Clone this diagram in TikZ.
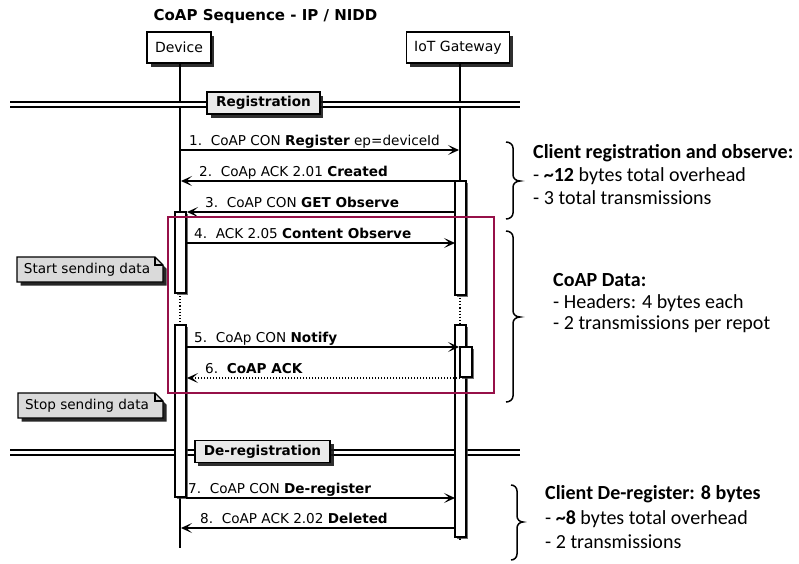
\documentclass[tikz,border=0pt]{standalone}
\usepackage{fontspec}
\setmainfont{DejaVu Sans}
\newfontfamily\calfont{Carlito}
\usetikzlibrary{arrows.meta,shadows}

\definecolor{framered}{RGB}{150,16,72}
\definecolor{notefill}{RGB}{218,218,218}
\definecolor{sepfill}{RGB}{234,234,234}

\tikzset{
  boxshadow/.style={drop shadow={shadow xshift=3.5pt,shadow yshift=-3.5pt,fill=black!90,opacity=0.9}},
  participant/.style={draw,line width=1.3pt,fill=white,boxshadow,minimum height=31pt,inner xsep=8pt,font=\fontsize{14}{16}\selectfont},
  lifeline/.style={line width=1.1pt},
  gapline/.style={line width=1.1pt,dotted},
  actbar/.style={draw,line width=1.2pt,fill=white,drop shadow={shadow xshift=1.5pt,shadow yshift=-1.5pt,fill=black!75,opacity=0.75}},
  msg/.style={line width=1.1pt,-{Stealth[length=11pt,width=10pt,inset=5.5pt]}},
  reply/.style={msg,dash pattern=on 1.5pt off 1.5pt},
  msglabel/.style={anchor=base west,inner sep=0pt,font=\fontsize{13.6}{16}\selectfont},
  separator/.style={line width=1.7pt,double=white,double distance=3pt},
  seplabel/.style={draw,line width=1.3pt,fill=sepfill,boxshadow,font=\bfseries\fontsize{13.6}{16}\selectfont,minimum height=22pt,inner xsep=9pt,inner ysep=0pt},
  notebody/.style={draw,line width=1.1pt,fill=notefill},
  noteshadow/.style={fill=black!85},
  notetext/.style={inner sep=0pt,font=\fontsize{13.6}{16}\selectfont},
  bracket/.style={line width=1.5pt},
  summary/.style={anchor=base west,inner sep=0pt,font=\calfont\fontsize{20}{23}\selectfont},
  highlight/.style={draw=framered,line width=2.2pt}
}

\begin{document}
\begin{tikzpicture}[x=1pt,y=-1pt]
\useasboundingbox (0,0) rectangle (799,563);
\fill[white] (0,0) rectangle (799,563);

% title
\node[font=\bfseries\fontsize{15}{18}\selectfont] (title) at (265.5,16) {CoAP Sequence - IP / NIDD};

% participants
\node[participant] (dev) at (179,47.5) {Device};
\node[participant] (gw) at (458,47.5) {IoT Gateway};

% lifeline coordinates
\coordinate (devA) at (180,63);
\coordinate (devB) at (180,293);
\coordinate (devC) at (180,325);
\coordinate (devD) at (180,548);
\coordinate (gwA) at (460,63);
\coordinate (gwB) at (460,295);
\coordinate (gwC) at (460,325);
\coordinate (gwD) at (460,540);

\draw[lifeline] (devA) -- (devB);
\draw[gapline] (devB) -- (devC);
\draw[lifeline] (devC) -- (devD);
\draw[lifeline] (gwA) -- (gwB);
\draw[gapline] (gwB) -- (gwC);
\draw[lifeline] (gwC) -- (gwD);

% group separators
\coordinate (regL) at (10,104.5);
\coordinate (regR) at (520,104.5);
\draw[separator] (regL) -- (regR);
\node[seplabel] (reg) at (263.5,103) {Registration};

\coordinate (deregL) at (10,452.5);
\coordinate (deregR) at (520,452.5);
\draw[separator] (deregL) -- (deregR);
\node[seplabel] (dereg) at (262.5,451.5) {De-registration};

% activation bars
\path[actbar] (175,212) rectangle (186,293);
\path[actbar] (175,325) rectangle (186,497);
\path[actbar] (455,181) rectangle (466,295);
\path[actbar] (455,325) rectangle (466,537);
\path[actbar] (460,347) rectangle (472,377);

% message end points
\coordinate (m1s) at (180,150);  \coordinate (m1e) at (459,150);
\coordinate (m2s) at (455,181);  \coordinate (m2e) at (181,181);
\coordinate (m3s) at (455,212);  \coordinate (m3e) at (187,212);
\coordinate (m4s) at (186,243);  \coordinate (m4e) at (455,243);
\coordinate (m5s) at (186,347);  \coordinate (m5e) at (459,347);
\coordinate (m6s) at (460,378);  \coordinate (m6e) at (187,378);
\coordinate (m7s) at (186,498);  \coordinate (m7e) at (455,498);
\coordinate (m8s) at (455,528);  \coordinate (m8e) at (181,528);

\draw[msg] (m1s) -- (m1e);
\draw[msg] (m2s) -- (m2e);
\draw[msg] (m3s) -- (m3e);
\draw[msg] (m4s) -- (m4e);
\draw[msg] (m5s) -- (m5e);
\draw[reply] (m6s) -- (m6e);
\draw[msg] (m7s) -- (m7e);
\draw[msg] (m8s) -- (m8e);

\node[msglabel] (l1) at (189,145) {1.\ \ CoAP CON \textbf{Register} ep=deviceId};
\node[msglabel] (l2) at (199,176) {2.\ \ CoAp ACK 2.01 \textbf{Created}};
\node[msglabel] (l3) at (205,207) {3.\ \ CoAP CON \textbf{GET Observe}};
\node[msglabel] (l4) at (194,238) {4.\ \ ACK 2.05 \textbf{Content Observe}};
\node[msglabel] (l5) at (194,342) {5.\ \ CoAp CON \textbf{Notify}};
\node[msglabel] (l6) at (205,373) {6.\ \ \textbf{CoAP ACK}};
\node[msglabel] (l7) at (188,493) {7.\ \ CoAP CON \textbf{De-register}};
\node[msglabel] (l8) at (200,523) {8.\ \ CoAP ACK 2.02 \textbf{Deleted}};

% notes with folded corner
\fill[noteshadow] (20.5,260.5) -- (158.5,260.5) -- (166.5,268.5) -- (166.5,285.5) -- (20.5,285.5) -- cycle;
\draw[notebody] (17,257) -- (155,257) -- (163,265) -- (163,282) -- (17,282) -- cycle;
\draw[line width=1.1pt] (155,257) -- (155,265) -- (163,265);
\node[notetext] (startnote) at (87,270) {Start sending data};

\fill[noteshadow] (21.5,396.5) -- (158.5,396.5) -- (166.5,404.5) -- (166.5,421.5) -- (21.5,421.5) -- cycle;
\draw[notebody] (18,393) -- (155,393) -- (163,401) -- (163,418) -- (18,418) -- cycle;
\draw[line width=1.1pt] (155,393) -- (155,401) -- (163,401);
\node[notetext] (stopnote) at (87,406) {Stop sending data};

% highlighted data exchange
\draw[highlight] (168,217) rectangle (494,393);

% summary braces
\draw[bracket] (506,142) to[out=0,in=90] (513,148) -- (513,175) to[out=-90,in=180] (520,181)
  to[out=180,in=90] (513,187) -- (513,213) to[out=-90,in=0] (506,219);
\draw[bracket] (506,231) to[out=0,in=90] (513,237) -- (513,311) to[out=-90,in=180] (520,317)
  to[out=180,in=90] (513,323) -- (513,396) to[out=-90,in=0] (506,402);
\draw[bracket] (511,485) to[out=0,in=90] (517,491) -- (517,516) to[out=-90,in=180] (523,522)
  to[out=180,in=90] (517,528) -- (517,554) to[out=-90,in=0] (511,560);

% summary texts
\node[summary] (s1a) at (533,158.5) {\bfseries Client registration and observe:};
\node[summary] (s1b) at (533,181) {- \textbf{\textasciitilde12} bytes total overhead};
\node[summary] (s1c) at (533,204) {- 3 total transmissions};

\node[summary] (s2a) at (553,286.5) {\bfseries CoAP Data:};
\node[summary] (s2b) at (553,308) {- Headers: 4 bytes each};
\node[summary] (s2c) at (553,329.5) {- 2 transmissions per repot};

\node[summary] (s3a) at (545,499.5) {\bfseries Client De-register: 8 bytes};
\node[summary] (s3b) at (545,524) {- \textbf{\textasciitilde8} bytes total overhead};
\node[summary] (s3c) at (545,548) {- 2 transmissions};
\end{tikzpicture}
\end{document}
